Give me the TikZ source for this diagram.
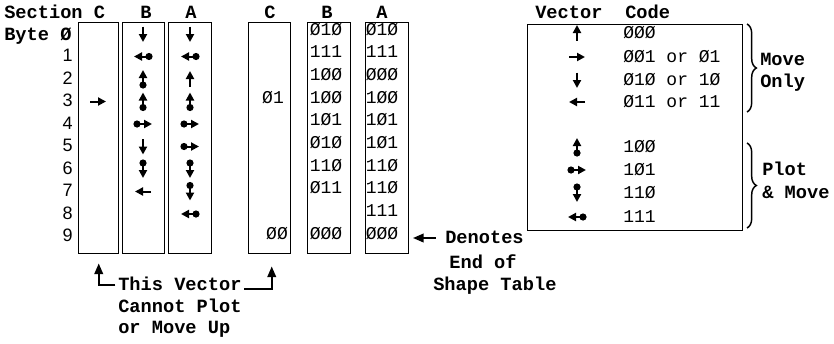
\documentclass[tikz,border=0pt]{standalone}
\usepackage{fontspec}
\setmainfont{Liberation Mono}
\newfontfamily\digfont{Liberation Sans}
\usetikzlibrary{arrows.meta,decorations.pathreplacing}
\begin{document}
\begin{tikzpicture}[x=0.75pt,y=-0.75pt,
  lbl/.style={inner sep=0pt, font=\fontsize{14}{16}\selectfont\bfseries, text height=7.5pt, text depth=0pt},
  code/.style={inner sep=0pt, font=\fontsize{13.5}{15}\selectfont, text height=7.5pt, text depth=0pt},
  num/.style={inner sep=0pt, font=\digfont\fontsize{13.5}{15}\selectfont, text height=7.5pt, text depth=0pt},
  colbox/.style={draw, line width=1.1pt, inner sep=0pt, anchor=north west, minimum height=173.25pt},
  vl/.style={line width=1.5pt, -{Triangle[length=6pt,width=6pt]}},
  arr/.style={line width=1.3pt, -{Triangle[length=8pt,width=6.5pt]}},
  brc/.style={line width=1.1pt, decorate, decoration={brace, amplitude=7pt}},
  pics/mU/.style={code={\draw[vl] (0,7.5) -- (0,-8);}},
  pics/mD/.style={code={\draw[vl] (0,-7.5) -- (0,8);}},
  pics/mR/.style={code={\draw[vl] (-8,0) -- (8,0);}},
  pics/mL/.style={code={\draw[vl] (8,0) -- (-8,0);}},
  pics/pU/.style={code={\fill (0,6) circle (3.6); \draw[vl] (0,6) -- (0,-9);}},
  pics/pD/.style={code={\fill (0,-6) circle (3.6); \draw[vl] (0,-6) -- (0,9);}},
  pics/pR/.style={code={\fill (-6,0) circle (3.6); \draw[vl] (-6,0) -- (9,0);}},
  pics/pL/.style={code={\fill (6,0) circle (3.6); \draw[vl] (6,0) -- (-9,0);}},
]
\useasboundingbox (0,0) rectangle (834,343);

% ---------- left: vectors ----------
\node[lbl, anchor=west] (sec) at (4,13) {Section C};
\node[lbl] (hB) at (146,13) {B};
\node[lbl] (hA) at (191,13) {A};
\node[lbl, anchor=west] (byte) at (4,35) {Byte Ø};
\foreach \i in {1,...,9} {
  \node[num, anchor=east] (n\i) at (73,{34+22.5*\i}) {\i};
}
\node[colbox, minimum width=30pt] (LC) at (78,22) {};
\node[colbox, minimum width=31.5pt] (LB) at (122,22) {};
\node[colbox, minimum width=32.25pt] (LA) at (168,22) {};

\pic at (98,{34+22.5*3}) {mR};
\foreach \i/\p in {0/mD,1/pL,2/pU,3/pU,4/pR,5/mD,6/pD,7/mL} {
  \pic at (143,{34+22.5*\i}) {\p};
}
\foreach \i/\p in {0/mD,1/pL,2/mU,3/pU,4/pR,5/pR,6/pD,7/pD,8/pL} {
  \pic at (190,{34+22.5*\i}) {\p};
}

% ---------- middle: codes ----------
\node[lbl] (mhC) at (270,13) {C};
\node[lbl] (mhB) at (327,13) {B};
\node[lbl] (mhA) at (382,13) {A};
\node[colbox, minimum width=31.5pt] (MC) at (248,22) {};
\node[colbox, minimum width=32.25pt] (MB) at (307,22) {};
\node[colbox, minimum width=32.25pt] (MA) at (365,22) {};

\node[code] (c3) at (273,{30+22.7*3}) {Ø1};
\node[code] (c9) at (277,{30+22.7*9}) {ØØ};
\foreach \i/\t in {0/Ø1Ø,1/111,2/1ØØ,3/1ØØ,4/1Ø1,5/Ø1Ø,6/11Ø,7/Ø11,9/ØØØ} {
  \node[code] (b\i) at (326,{30+22.7*\i}) {\t};
}
\foreach \i/\t in {0/Ø1Ø,1/111,2/ØØØ,3/1ØØ,4/1Ø1,5/1Ø1,6/11Ø,7/11Ø,8/111,9/ØØØ} {
  \node[code] (a\i) at (382,{30+22.7*\i}) {\t};
}

% end-of-table note
\node[lbl, anchor=west] (den) at (445,238) {Denotes};
\node[lbl] (endof) at (483,263) {End of};
\node[lbl, anchor=west] (shp) at (433,285) {Shape Table};
\coordinate (endtip) at (413,238);
\draw[arr] ([xshift=-7pt]den.west) -- (endtip);

% cannot-plot note
\node[lbl, anchor=west] (tv1) at (118,285) {This Vector};
\node[lbl, anchor=west] (tv2) at (118,307) {Cannot Plot};
\node[lbl, anchor=west] (tv3) at (118,328) {or Move Up};
\draw[arr] ([xshift=-2pt]tv1.west) -| ([yshift=-6.75pt]LC.south);
\draw[arr] ([xshift=2pt,yshift=-3pt]tv1.east) -| ([xshift=1.5pt,yshift=-9pt]MC.south);

% ---------- right: legend ----------
\node[lbl, anchor=west] (hv) at (535,13) {Vector};
\node[lbl, anchor=west] (hc) at (625,13) {Code};
\node[draw, line width=1.1pt, inner sep=0pt, anchor=north west, minimum width=161.25pt, minimum height=154.5pt] (leg) at (527,24) {};

\foreach \y/\p/\t [count=\k] in {33/mU/ØØØ, 57/mR/ØØ1 or Ø1, 80/mD/Ø1Ø or 1Ø, 102/mL/Ø11 or 11,
                       147/pU/1ØØ, 170/pR/1Ø1, 193/pD/11Ø, 217/pL/111} {
  \pic at (577,\y) {\p};
  \node[code, anchor=west] (k\k) at (623,\y) {\t};
}

\draw[brc] (747,24) -- (747,112);
\draw[brc] (747,143) -- (747,228);
\node[lbl, anchor=west] (mo1) at (760,60) {Move};
\node[lbl, anchor=west] (mo2) at (760,82) {Only};
\node[lbl, anchor=west] (pm1) at (762,170) {Plot};
\node[lbl, anchor=west] (pm2) at (762,193) {\& Move};
\end{tikzpicture}
\end{document}
